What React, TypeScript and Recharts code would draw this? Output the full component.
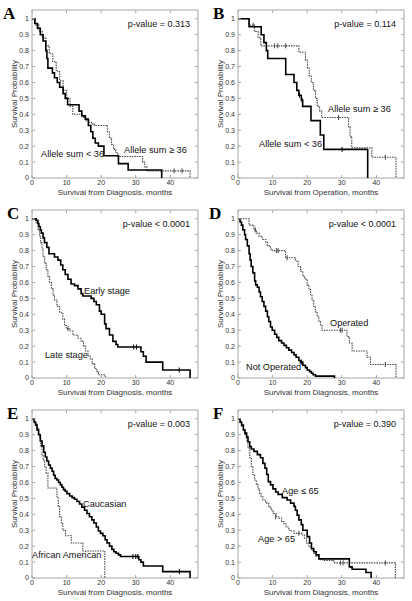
import React from 'react';
import { ComposedChart, Line, Scatter, XAxis, YAxis, ReferenceArea } from 'recharts';

type Pt = [number, number];

// axis ticks
const xTicks = [0, 10, 20, 30, 40];
const yTicks = [0, 0.1, 0.2, 0.3, 0.4, 0.5, 0.6, 0.7, 0.8, 0.9, 1];

// panel A: allele sum, from diagnosis
const aLow: Pt[] = [[0, 1], [0.8, 0.97], [1.6, 0.94], [2.4, 0.9], [3.2, 0.86], [4.0, 0.8], [4.3, 0.75], [4.6, 0.69], [5.9, 0.66], [6.5, 0.63], [7.3, 0.6], [8.0, 0.57], [9.0, 0.53], [9.6, 0.5], [10.3, 0.46], [13.6, 0.42], [14.4, 0.39], [15.4, 0.37], [16.3, 0.33], [17.0, 0.29], [17.6, 0.25], [18.3, 0.22], [19.2, 0.2], [20.8, 0.14], [25.0, 0.09], [27.8, 0.05], [37.5, 0]];
const aLowCens: Pt[] = [];
const aHigh: Pt[] = [[0, 1], [1, 0.96], [2, 0.92], [3, 0.88], [4, 0.83], [5, 0.78], [6, 0.73], [7, 0.67], [8, 0.61], [9, 0.55], [10, 0.5], [11, 0.45], [11.8, 0.4], [14.8, 0.38], [15.6, 0.36], [16.4, 0.35], [17.2, 0.34], [18, 0.33], [21.8, 0.29], [22.4, 0.25], [23, 0.21], [23.6, 0.18], [24.2, 0.16], [24.8, 0.135], [32.0, 0.1], [32.6, 0.07], [33.2, 0.045], [45.7, 0]];
const aHighCens: Pt[] = [[41.1, 0.045], [43.4, 0.045]];

// panel B: allele sum, from operation
const bLow: Pt[] = [[0, 1], [3.2, 0.95], [6.7, 0.9], [7.5, 0.85], [8.2, 0.8], [8.6, 0.75], [13.8, 0.65], [16.2, 0.6], [17.0, 0.55], [17.6, 0.52], [18.3, 0.49], [18.7, 0.45], [21.1, 0.36], [23.8, 0.27], [24.8, 0.18], [37.5, 0]];
const bLowCens: Pt[] = [[17.8, 0.52], [18.5, 0.49], [30.1, 0.18]];
const bHigh: Pt[] = [[0, 1], [3.2, 0.96], [4.8, 0.92], [5.8, 0.88], [6.6, 0.83], [17.6, 0.79], [19.5, 0.74], [20.1, 0.69], [20.6, 0.64], [21.2, 0.6], [21.8, 0.55], [22.4, 0.5], [22.9, 0.45], [23.6, 0.42], [24.2, 0.38], [32.0, 0.32], [32.4, 0.26], [32.9, 0.19], [38.7, 0.13], [45.7, 0]];
const bHighCens: Pt[] = [[4.4, 0.96], [10.6, 0.83], [11.5, 0.83], [13.8, 0.83], [29.1, 0.38], [42.6, 0.13]];

// panel C: stage
const cEarly: Pt[] = [[0, 1], [1.2, 0.99], [1.7, 0.97], [2.0, 0.95], [2.4, 0.93], [2.7, 0.91], [3.2, 0.88], [3.6, 0.85], [4.3, 0.82], [4.9, 0.78], [6.5, 0.76], [7.5, 0.74], [8.3, 0.71], [8.9, 0.68], [9.6, 0.65], [10.4, 0.62], [11.3, 0.59], [12.3, 0.58], [13.3, 0.56], [14.2, 0.53], [14.7, 0.515], [17.1, 0.5], [17.9, 0.48], [18.6, 0.46], [19.5, 0.42], [20.0, 0.4], [21.0, 0.34], [21.4, 0.31], [22.4, 0.27], [23.4, 0.23], [24.3, 0.21], [24.8, 0.195], [31.5, 0.165], [32.2, 0.137], [33.0, 0.1], [37.8, 0.05], [45.7, 0]];
const cEarlyCens: Pt[] = [[29.4, 0.195], [30.2, 0.195], [42.6, 0.05]];
const cLate: Pt[] = [[0, 1], [0.8, 0.99], [1.25, 0.97], [1.7, 0.93], [2.2, 0.89], [2.5, 0.85], [2.9, 0.81], [3.2, 0.76], [3.65, 0.72], [4.1, 0.68], [4.6, 0.64], [5.1, 0.6], [5.6, 0.56], [6.1, 0.52], [6.5, 0.49], [7.2, 0.45], [8.0, 0.41], [8.9, 0.37], [9.4, 0.33], [9.9, 0.31], [10.9, 0.295], [11.8, 0.27], [13.3, 0.25], [14.2, 0.23], [14.9, 0.2], [15.5, 0.17], [16.2, 0.14], [16.8, 0.12], [17.4, 0.09], [18.1, 0.06], [18.75, 0.04], [19.2, 0.02], [21.2, 0]];
const cLateCens: Pt[] = [[10.4, 0.31]];

// panel D: operated
const dNot: Pt[] = [[0, 1], [0.6, 0.98], [1.0, 0.96], [1.4, 0.93], [1.9, 0.9], [2.2, 0.87], [2.7, 0.83], [3.2, 0.78], [3.5, 0.74], [3.8, 0.7], [4.3, 0.66], [4.8, 0.61], [5.1, 0.585], [5.6, 0.57], [6.1, 0.54], [6.5, 0.51], [7.0, 0.48], [7.5, 0.45], [8.0, 0.42], [8.5, 0.385], [8.9, 0.355], [9.4, 0.32], [9.9, 0.3], [10.6, 0.275], [11.2, 0.255], [11.8, 0.235], [12.6, 0.22], [13.3, 0.205], [14.0, 0.19], [14.7, 0.175], [15.5, 0.16], [16.2, 0.145], [16.8, 0.13], [17.6, 0.11], [18.1, 0.1], [18.75, 0.08], [19.5, 0.065], [20.0, 0.05], [20.7, 0.04], [21.25, 0.03], [21.7, 0.02], [22.4, 0.012], [27.9, 0]];
const dNotCens: Pt[] = [[18.4, 0.1]];
const dOp: Pt[] = [[0, 1], [3.2, 0.96], [4.6, 0.93], [5.3, 0.91], [6.1, 0.89], [7.0, 0.87], [8.0, 0.85], [8.5, 0.83], [9.4, 0.81], [9.9, 0.8], [13.75, 0.755], [16.6, 0.735], [17.4, 0.7], [18.1, 0.67], [18.75, 0.64], [19.3, 0.62], [20.0, 0.585], [20.5, 0.555], [21.0, 0.52], [21.4, 0.49], [21.9, 0.445], [22.4, 0.415], [22.9, 0.385], [23.4, 0.355], [23.85, 0.33], [24.3, 0.3], [31.5, 0.26], [32.2, 0.22], [33.0, 0.17], [37.3, 0.13], [38.3, 0.085], [45.7, 0]];
const dOpCens: Pt[] = [[5.0, 0.93], [11.1, 0.8], [11.6, 0.8], [14.2, 0.755], [29.6, 0.3], [30.1, 0.3], [42.6, 0.085]];

// panel E: race
const eCau: Pt[] = [[0, 1], [0.6, 0.98], [1.05, 0.96], [1.45, 0.93], [1.9, 0.9], [2.4, 0.86], [2.9, 0.83], [3.4, 0.79], [3.85, 0.76], [4.3, 0.735], [4.8, 0.71], [5.3, 0.69], [5.8, 0.67], [6.25, 0.645], [6.7, 0.625], [7.2, 0.615], [7.7, 0.6], [8.2, 0.585], [8.65, 0.57], [9.1, 0.555], [9.6, 0.545], [10.1, 0.53], [10.9, 0.515], [11.6, 0.505], [12.3, 0.495], [13.0, 0.48], [13.75, 0.465], [14.4, 0.445], [15.2, 0.425], [15.9, 0.405], [16.6, 0.385], [17.3, 0.365], [17.9, 0.345], [18.6, 0.32], [19.2, 0.295], [19.8, 0.28], [20.5, 0.265], [21.15, 0.24], [21.7, 0.22], [22.4, 0.2], [23.1, 0.18], [23.65, 0.165], [24.3, 0.155], [25.0, 0.145], [25.6, 0.135], [30.9, 0.115], [31.5, 0.1], [32.2, 0.075], [37.8, 0.04], [45.7, 0]];
const eCauCens: Pt[] = [[29.2, 0.135], [30.0, 0.135], [30.6, 0.135], [42.6, 0.04]];
const eAfr: Pt[] = [[0, 1], [0.8, 0.97], [1.45, 0.94], [1.9, 0.91], [2.2, 0.88], [2.5, 0.83], [2.9, 0.77], [3.2, 0.74], [3.65, 0.7], [4.1, 0.66], [4.6, 0.565], [7.2, 0.51], [7.6, 0.45], [8.0, 0.385], [8.5, 0.34], [8.9, 0.3], [9.7, 0.265], [11.35, 0.22], [14.7, 0.17], [21.05, 0]];
const eAfrCens: Pt[] = [];

// panel F: age
const fYoung: Pt[] = [[0, 1], [0.6, 0.98], [1.05, 0.96], [1.55, 0.93], [2.0, 0.91], [2.5, 0.885], [2.9, 0.855], [3.4, 0.825], [3.85, 0.81], [4.6, 0.795], [5.6, 0.775], [6.5, 0.755], [7.2, 0.72], [7.8, 0.69], [8.3, 0.65], [8.75, 0.605], [9.4, 0.585], [10.1, 0.56], [10.9, 0.54], [11.6, 0.525], [12.8, 0.505], [14.2, 0.49], [15.2, 0.47], [16.2, 0.45], [16.6, 0.425], [17.1, 0.395], [17.6, 0.365], [18.3, 0.335], [18.75, 0.3], [20.0, 0.26], [20.7, 0.22], [21.25, 0.185], [21.9, 0.165], [22.6, 0.145], [23.4, 0.12], [32.2, 0.07], [33.0, 0.055], [37.0, 0.035], [38.5, 0]];
const fYoungCens: Pt[] = [];
const fOld: Pt[] = [[0, 1], [0.6, 0.975], [1.05, 0.95], [1.55, 0.925], [2.0, 0.9], [2.5, 0.865], [2.9, 0.815], [3.4, 0.755], [3.85, 0.7], [4.3, 0.65], [4.8, 0.615], [5.3, 0.585], [5.8, 0.56], [6.25, 0.53], [6.7, 0.51], [7.2, 0.49], [8.0, 0.47], [8.9, 0.445], [9.6, 0.425], [10.2, 0.405], [11.05, 0.385], [11.8, 0.375], [12.6, 0.355], [13.3, 0.34], [13.9, 0.32], [14.7, 0.3], [15.4, 0.295], [16.2, 0.28], [18.55, 0.27], [19.2, 0.25], [19.8, 0.22], [20.5, 0.195], [21.25, 0.175], [21.9, 0.155], [22.6, 0.135], [23.4, 0.115], [24.8, 0.11], [27.7, 0.095], [45.5, 0]];
const fOldCens: Pt[] = [[10.9, 0.385], [17.6, 0.28], [29.6, 0.095], [30.4, 0.095], [42.6, 0.095]];

const letters = ['A', 'B', 'C', 'D', 'E', 'F'];
const pValues = ['p-value = 0.313', 'p-value = 0.114', 'p-value < 0.0001', 'p-value < 0.0001', 'p-value = 0.003', 'p-value = 0.390'];
const xLabels = [
  'Survival from Diagnosis, months',
  'Survival from Operation, months',
  'Survival from Diagnosis, months',
  'Survival from Diagnosis, months',
  'Survival from Diagnosis, months',
  'Survival from Diagnosis, months',
];

const SANS = '"Liberation Sans", Arial, Helvetica, sans-serif';
const SERIF = '"Liberation Serif", "Times New Roman", serif';
const BOX = '#a6a6a6';
const DOTTED = '#454545';
const W = 206;
const H = 200;
const PLOT = { left: 32, right: 198, top: 10, bottom: 178 };
const X_MAX = 48;
const Y_MAX = 1.055;

const rows = (pts: Pt[]) => pts.map(([t, s]) => ({ t, s }));

interface Curve {
  pts: Pt[];
  cens: Pt[];
  dashed: boolean;
}

interface Note {
  text: string;
  x: number;
  y: number;
}

interface PanelDef {
  curves: Curve[];
  notes: Note[];
  letterX: number;
}

const panels: PanelDef[] = [
  {
    curves: [
      { pts: aHigh, cens: aHighCens, dashed: true },
      { pts: aLow, cens: aLowCens, dashed: false },
    ],
    notes: [
      { text: 'Allele sum < 36', x: 41, y: 154 },
      { text: 'Allele sum \u2265 36', x: 124, y: 150 },
    ],
    letterX: 3,
  },
  {
    curves: [
      { pts: bHigh, cens: bHighCens, dashed: true },
      { pts: bLow, cens: bLowCens, dashed: false },
    ],
    notes: [
      { text: 'Allele sum \u2265 36', x: 122, y: 109 },
      { text: 'Allele sum < 36', x: 53, y: 144 },
    ],
    letterX: 7,
  },
  {
    curves: [
      { pts: cLate, cens: cLateCens, dashed: true },
      { pts: cEarly, cens: cEarlyCens, dashed: false },
    ],
    notes: [
      { text: 'Early stage', x: 84, y: 91 },
      { text: 'Late stage', x: 45, y: 155 },
    ],
    letterX: 7,
  },
  {
    curves: [
      { pts: dOp, cens: dOpCens, dashed: true },
      { pts: dNot, cens: dNotCens, dashed: false },
    ],
    notes: [
      { text: 'Operated', x: 124, y: 123 },
      { text: 'Not Operated', x: 40, y: 167 },
    ],
    letterX: 3,
  },
  {
    curves: [
      { pts: eAfr, cens: eAfrCens, dashed: true },
      { pts: eCau, cens: eCauCens, dashed: false },
    ],
    notes: [
      { text: 'Caucasian', x: 83, y: 104 },
      { text: 'African American', x: 32, y: 155 },
    ],
    letterX: 7,
  },
  {
    curves: [
      { pts: fOld, cens: fOldCens, dashed: true },
      { pts: fYoung, cens: fYoungCens, dashed: false },
    ],
    notes: [
      { text: 'Age \u2264 65', x: 76, y: 91 },
      { text: 'Age > 65', x: 52, y: 139 },
    ],
    letterX: 7,
  },
];

function XTick(props: any) {
  const { x, y, payload } = props;
  return (
    <g>
      <line x1={x} x2={x} y1={PLOT.bottom} y2={PLOT.bottom - 3} stroke={BOX} />
      <line x1={x} x2={x} y1={PLOT.top} y2={PLOT.top + 3} stroke={BOX} />
      <text x={x} y={y} dy="0.71em" textAnchor="middle" fontSize={7} fontFamily={SANS} fill="#333">
        {payload.value}
      </text>
    </g>
  );
}

function YTick(props: any) {
  const { x, y, payload } = props;
  return (
    <g>
      <line x1={PLOT.left} x2={PLOT.left + 3} y1={y} y2={y} stroke={BOX} />
      <line x1={PLOT.right} x2={PLOT.right - 3} y1={y} y2={y} stroke={BOX} />
      <text x={x} y={y} dy="0.355em" textAnchor="end" fontSize={7} fontFamily={SANS} fill="#333">
        {String(payload.value)}
      </text>
    </g>
  );
}

const censorShape = (color: string) => (props: any) => (
  <line x1={props.cx} x2={props.cx} y1={props.cy - 2.5} y2={props.cy + 2.5} stroke={color} strokeWidth={1} />
);

function Panel({ def, index }: { def: PanelDef; index: number }) {
  const left = (index % 2) * W;
  const top = Math.floor(index / 2) * H;
  const midX = (PLOT.left + PLOT.right) / 2;
  const midY = (PLOT.top + PLOT.bottom) / 2;

  return (
    <div style={{ position: 'absolute', left, top, width: W, height: H }}>
      <ComposedChart
        width={W}
        height={H}
        margin={{ top: PLOT.top, right: W - PLOT.right, bottom: 0, left: 0 }}
      >
        <XAxis
          dataKey="t"
          type="number"
          domain={[0, X_MAX]}
          ticks={xTicks}
          interval={0}
          height={H - PLOT.bottom}
          tickSize={0}
          tickMargin={2}
          axisLine={false}
          tickLine={false}
          tick={XTick}
          allowDataOverflow
        />
        <YAxis
          dataKey="s"
          type="number"
          domain={[0, Y_MAX]}
          ticks={yTicks}
          interval={0}
          width={PLOT.left}
          tickSize={0}
          tickMargin={3}
          axisLine={false}
          tickLine={false}
          tick={YTick}
          allowDataOverflow
        />
        <ReferenceArea x1={0} x2={X_MAX} y1={0} y2={Y_MAX} fill="none" stroke={BOX} strokeWidth={1} />
        {def.curves.map((c, i) => (
          <Line
            key={`line-${i}`}
            data={rows(c.pts)}
            dataKey="s"
            type="stepAfter"
            stroke={c.dashed ? DOTTED : '#000'}
            strokeWidth={c.dashed ? 1.1 : 1.6}
            strokeDasharray={c.dashed ? '1.5 1' : undefined}
            dot={false}
            activeDot={false}
            isAnimationActive={false}
          />
        ))}
        {def.curves.map((c, i) =>
          c.cens.length ? (
            <Scatter
              key={`cens-${i}`}
              data={rows(c.cens)}
              shape={censorShape(c.dashed ? DOTTED : '#000')}
              isAnimationActive={false}
            />
          ) : null
        )}
      </ComposedChart>
      <svg
        width={W}
        height={H}
        style={{ position: 'absolute', left: 0, top: 0, pointerEvents: 'none' }}
      >
        <text x={def.letterX} y={18.5} fontFamily={SERIF} fontWeight="bold" fontSize={17} fill="#000">
          {letters[index]}
        </text>
        <text x={190} y={27} textAnchor="end" fontFamily={SANS} fontSize={9} fill="#111">
          {pValues[index]}
        </text>
        <text x={midX} y={195} textAnchor="middle" fontFamily={SANS} fontSize={8} fill="#333">
          {xLabels[index]}
        </text>
        <text
          transform={`translate(14, ${midY}) rotate(-90)`}
          dy="0.35em"
          textAnchor="middle"
          fontFamily={SANS}
          fontSize={8}
          fill="#333"
        >
          Survival Probability
        </text>
        {def.notes.map((n, i) => (
          <text key={i} x={n.x} y={n.y} dy="0.35em" fontFamily={SANS} fontSize={9.2} fill="#111">
            {n.text}
          </text>
        ))}
      </svg>
    </div>
  );
}

export default function App() {
  return (
    <div style={{ position: 'absolute', left: 0, top: 0, width: 412, height: 601, background: '#fff' }}>
      {panels.map((p, i) => (
        <Panel key={letters[i]} def={p} index={i} />
      ))}
    </div>
  );
}
